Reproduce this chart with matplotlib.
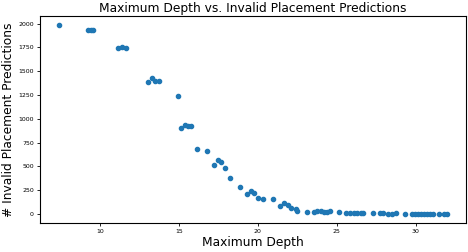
import matplotlib
matplotlib.use("Agg")
import matplotlib.pyplot as plt

max_depth = [7.43, 9.26, 9.41, 9.56, 11.12, 11.39, 11.62, 13.03, 13.27, 13.48, 13.73,
             14.91, 15.12, 15.37, 15.60, 15.79, 16.17, 16.78, 17.22, 17.45, 17.68, 17.91,
             18.26, 18.86, 19.33, 19.54, 19.77, 20.00, 20.35, 20.96, 21.42, 21.64, 21.88,
             22.11, 22.41, 22.49, 23.08, 23.53, 23.75, 23.97, 24.21, 24.37, 24.56, 25.16,
             25.60, 25.84, 26.06, 26.30, 26.52, 26.66, 27.27, 27.71, 27.95, 28.23, 28.51,
             28.74, 29.33, 29.77, 29.96, 30.15, 30.36, 30.55, 30.74, 30.93, 31.12, 31.46,
             31.79, 31.96]
invalid_preds = [1982, 1937, 1934, 1930, 1746, 1749, 1739, 1386, 1425, 1397, 1401,
                 1237, 905, 939, 926, 920, 680, 665, 515, 562, 547, 484,
                 372, 278, 209, 244, 223, 163, 153, 160, 82, 115, 97,
                 64, 55, 35, 21, 19, 26, 26, 16, 16, 32, 16,
                 8, 8, 8, 8, 8, 8, 6, 6, 6, 3, 3,
                 6, 3, 3, 3, 3, 3, 3, 3, 3, 3, 3,
                 3, 3]

fig = plt.figure(figsize=(4.68, 2.52), dpi=100)
ax = fig.add_axes([0.0855, 0.115, 0.9105, 0.822])
ax.scatter(max_depth, invalid_preds, s=9, color="#1f77b4")
ax.set_title("Maximum Depth vs. Invalid Placement Predictions", fontsize=8.8, pad=2.5)
ax.set_xlabel("Maximum Depth", fontsize=8.8, labelpad=1.5)
ax.set_ylabel("# Invalid Placement Predictions", fontsize=8.8, labelpad=2.5)
ax.tick_params(labelsize=4.5, length=2.5, pad=2, width=0.6)
for s in ax.spines.values():
    s.set_linewidth(0.8)
fig.savefig("out.png", dpi=100)
